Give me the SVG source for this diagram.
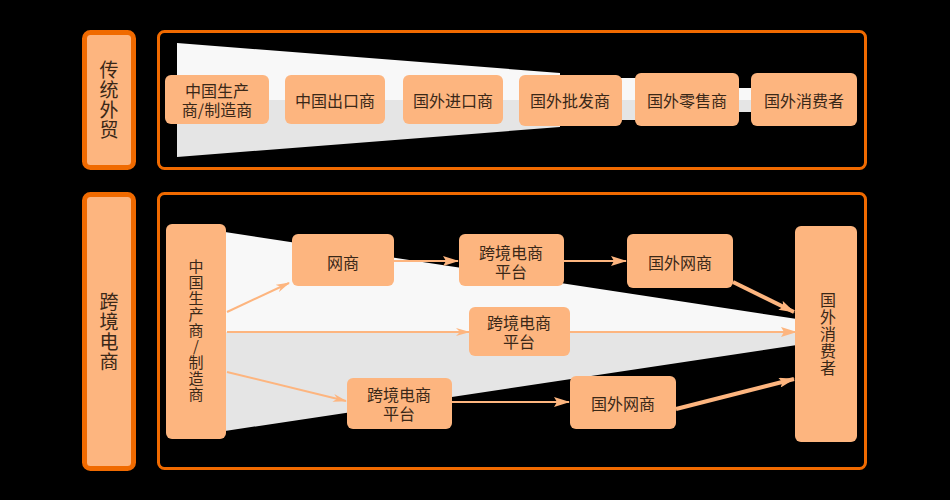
<svg xmlns="http://www.w3.org/2000/svg" width="950" height="500" viewBox="0 0 950 500">
<defs>
<style>
.frame{fill:none;stroke:#F06A00;stroke-width:3}
.label{fill:#FDB57F;stroke:#F06A00;stroke-width:5}
.box{fill:#FDB57F}
.t{font-family:"Noto Sans CJK SC","Liberation Sans",sans-serif;font-size:16px;fill:#3a2818;text-anchor:middle;dominant-baseline:central}
.tv{font-family:"Noto Sans CJK SC","Liberation Sans",sans-serif;fill:#3a2818;text-anchor:middle;writing-mode:vertical-rl;text-orientation:upright;letter-spacing:1px}
.hi{fill:#F8F8F8}
.lo{fill:#E5E5E5}
.c{stroke:#FDB57F;stroke-width:2;fill:none}
.ct{stroke:#FDB57F;stroke-width:4;fill:none}
</style>
<marker id="ah" viewBox="0 0 14 8" refX="13" refY="4" markerWidth="14" markerHeight="8" markerUnits="userSpaceOnUse" orient="auto">
<path d="M0,0 L14,4 L0,8 L4,4 z" fill="#FDB57F"/>
</marker>
<marker id="ahb" viewBox="0 0 16 10" refX="15" refY="5" markerWidth="16" markerHeight="10" markerUnits="userSpaceOnUse" orient="auto">
<path d="M0,0 L16,5 L0,10 L3,5 z" fill="#FDB57F"/>
</marker>
<clipPath id="topclip"><polygon points="177,43 560,73 560,127 177,157"/></clipPath>
<clipPath id="botclip"><polygon points="225,232 797,319 797,345 225,431"/></clipPath>
</defs>
<rect width="950" height="500" fill="#000"/>

<!-- Top section -->
<g id="label-traditional">
<rect class="label" x="84.5" y="32.5" width="49" height="135" rx="6"/>
<text class="tv" x="109" y="100" style="font-size:19px">传统外贸</text>
</g>
<g id="frame-traditional">
<rect class="frame" x="158.5" y="31.5" width="707" height="137" rx="6"/>
</g>
<g id="funnel-top">
<g clip-path="url(#topclip)">
<rect class="hi" x="170" y="40" width="400" height="60"/>
<rect class="lo" x="170" y="100" width="400" height="60"/>
</g>
<rect class="hi" x="556" y="78" width="82" height="22"/>
<rect class="lo" x="556" y="100" width="82" height="20"/>
<rect class="hi" x="735" y="88" width="20" height="12"/>
<rect class="lo" x="735" y="100" width="20" height="12"/>
</g>
<g id="t-maker">
<rect class="box" x="165" y="75" width="104" height="49" rx="6"/>
<text class="t"><tspan x="217" y="90">中国生产</tspan><tspan x="217" y="109">商/制造商</tspan></text>
</g>
<g id="t-exporter">
<rect class="box" x="285" y="75" width="100" height="49" rx="6"/>
<text class="t" x="335" y="100">中国出口商</text>
</g>
<g id="t-importer">
<rect class="box" x="403" y="75" width="100" height="49" rx="6"/>
<text class="t" x="453" y="100">国外进口商</text>
</g>
<g id="t-wholesaler">
<rect class="box" x="519" y="75" width="103" height="51" rx="6"/>
<text class="t" x="570" y="100">国外批发商</text>
</g>
<g id="t-retailer">
<rect class="box" x="635" y="73" width="104" height="53" rx="6"/>
<text class="t" x="687" y="100">国外零售商</text>
</g>
<g id="t-consumer">
<rect class="box" x="751" y="73" width="106" height="53" rx="6"/>
<text class="t" x="804" y="100">国外消费者</text>
</g>

<!-- Bottom section -->
<g id="label-cbec">
<rect class="label" x="84.5" y="194.5" width="49" height="274" rx="6"/>
<text class="tv" x="109" y="332" style="font-size:19px">跨境电商</text>
</g>
<g id="frame-cbec">
<rect class="frame" x="158.5" y="193.5" width="707" height="275" rx="6"/>
</g>
<g id="funnel-bottom">
<g clip-path="url(#botclip)">
<rect class="hi" x="220" y="228" width="580" height="104"/>
<rect class="lo" x="220" y="332" width="580" height="104"/>
</g>
</g>

<g id="connectors">
<line class="c" x1="227" y1="312" x2="289" y2="283" marker-end="url(#ah)"/>
<line class="c" x1="227" y1="332" x2="469" y2="332" marker-end="url(#ah)"/>
<line class="c" x1="570" y1="332" x2="796" y2="332" marker-end="url(#ahb)"/>
<line class="c" x1="227" y1="372" x2="346" y2="401" marker-end="url(#ah)"/>
<line class="c" x1="394" y1="261" x2="458" y2="261" marker-end="url(#ahb)"/>
<line class="c" x1="564" y1="261" x2="626" y2="261" marker-end="url(#ahb)"/>
<line class="c" x1="452" y1="402" x2="569" y2="402" marker-end="url(#ahb)"/>
<line class="ct" x1="733" y1="282" x2="794" y2="312" marker-end="url(#ahb)"/>
<line class="ct" x1="676" y1="409" x2="794" y2="379" marker-end="url(#ahb)"/>
</g>

<g id="c-maker">
<rect class="box" x="166" y="224" width="60" height="215" rx="6"/>
<text class="tv" x="196" y="331" style="font-size:15px">中国生产商/制造商</text>
</g>
<g id="c-etailer">
<rect class="box" x="292" y="234" width="102" height="52" rx="6"/>
<text class="t" x="343" y="262">网商</text>
</g>
<g id="c-platform-top">
<rect class="box" x="459" y="234" width="105" height="52" rx="6"/>
<text class="t"><tspan x="511" y="252">跨境电商</tspan><tspan x="511" y="271">平台</tspan></text>
</g>
<g id="c-foreign-etailer-top">
<rect class="box" x="627" y="234" width="106" height="54" rx="6"/>
<text class="t" x="680" y="262">国外网商</text>
</g>
<g id="c-platform-mid">
<rect class="box" x="469" y="307" width="101" height="49" rx="6"/>
<text class="t"><tspan x="519" y="322">跨境电商</tspan><tspan x="519" y="341">平台</tspan></text>
</g>
<g id="c-platform-bottom">
<rect class="box" x="347" y="378" width="105" height="51" rx="6"/>
<text class="t"><tspan x="399" y="394">跨境电商</tspan><tspan x="399" y="413">平台</tspan></text>
</g>
<g id="c-foreign-etailer-bottom">
<rect class="box" x="570" y="376" width="106" height="53" rx="6"/>
<text class="t" x="623" y="403">国外网商</text>
</g>
<g id="c-consumer">
<rect class="box" x="795" y="226" width="62" height="216" rx="6"/>
<text class="tv" x="828" y="334" style="font-size:16px">国外消费者</text>
</g>
</svg>
